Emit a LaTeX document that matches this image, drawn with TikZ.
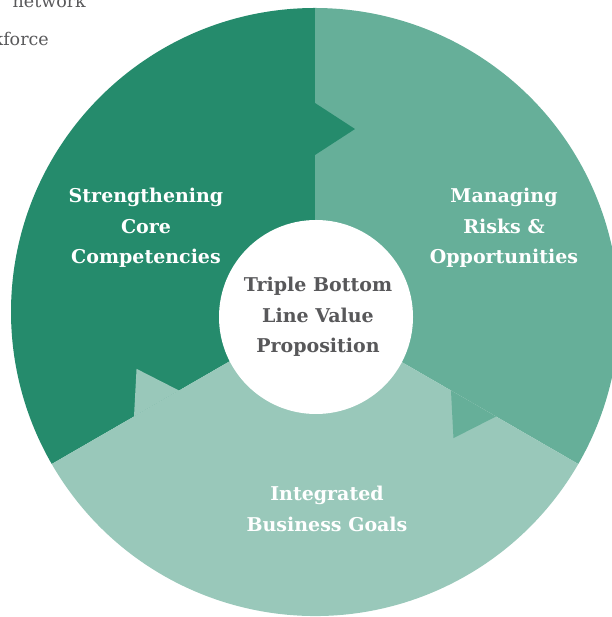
\documentclass[tikz,border=0pt]{standalone}
\usepackage{fontspec}
\setmainfont{DejaVu Serif}

\definecolor{wheelDark}{RGB}{37,139,108}
\definecolor{wheelMid}{RGB}{102,175,153}
\definecolor{wheelLight}{RGB}{153,200,186}
\definecolor{hubText}{RGB}{88,88,90}

\begin{document}
\begin{tikzpicture}[x=1pt,y=1pt,
    wheellabel/.style={font=\bfseries\fontsize{19}{30.5}\selectfont,align=center,text=white},
    hublabel/.style={wheellabel,text=hubText},
    fragment/.style={font=\fontsize{17.5}{20}\selectfont,text=hubText,anchor=base east,inner sep=0pt}]
      \useasboundingbox (0,0) rectangle (611,617);
      \begin{scope}[shift={(315,305)}]
        \foreach \a/\c in {90/wheelDark,-30/wheelMid,210/wheelLight}
          \fill[\c] (0,0) -- (\a:304) arc[start angle=\a,delta angle=120,radius=304] -- cycle;
        \foreach \a/\c in {90/wheelDark,-30/wheelMid,210/wheelLight}
          \fill[\c] (\a:157) -- (\a-12.33:187.3) -- (\a:209) -- cycle;
      \end{scope}
      \fill[white] (316,300) circle[radius=97];
      \draw
        (146,389) node[wheellabel] (core){Strengthening\\Core\\Competencies}
        (504,389) node[wheellabel] (risks){Managing\\Risks \&\\Opportunities}
        (327,108) node[wheellabel] (goals){Integrated\\Business Goals}
        (318,300) node[hublabel] (hub){Triple Bottom\\Line Value\\Proposition};
      \begin{scope}[fragment]
        \node (net) at (86,609) {network};
        \node (work) at (49,571) {workforce};
      \end{scope}
    \end{tikzpicture}
\end{document}
